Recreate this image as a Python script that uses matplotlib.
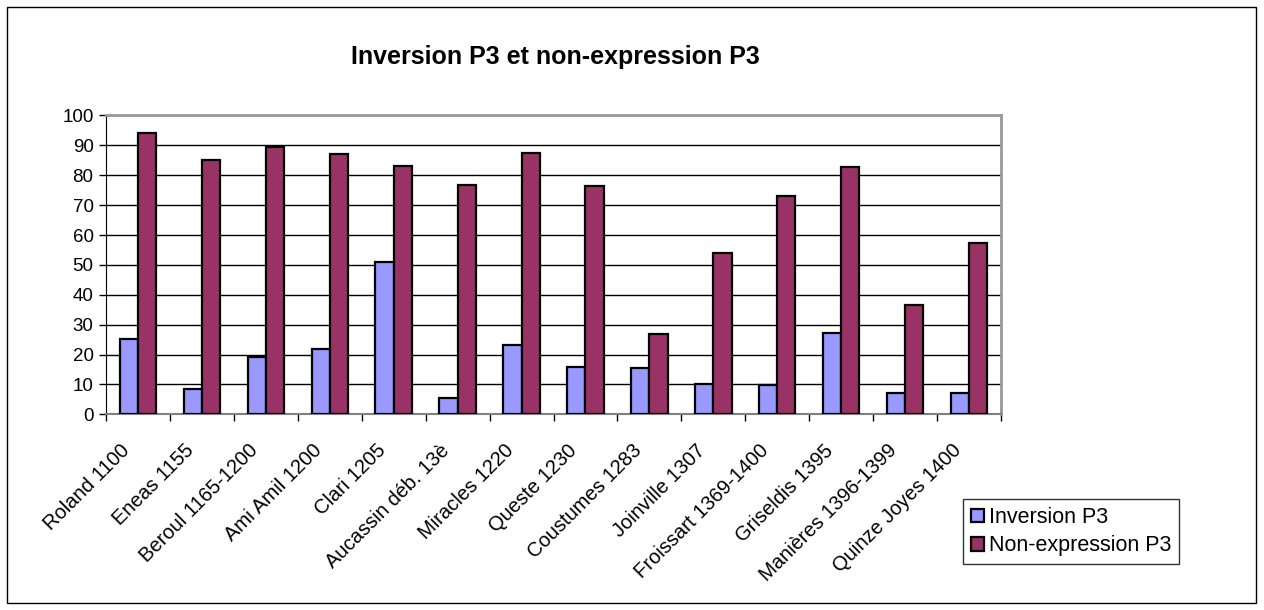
import matplotlib.pyplot as plt
import matplotlib.patches as mpatches
import numpy as np

plt.rcParams['font.family'] = ['Liberation Sans', 'DejaVu Sans']

# data
categories = ['Roland 1100', 'Eneas 1155', 'Beroul 1165-1200', 'Ami Amil 1200',
              'Clari 1205', 'Aucassin déb. 13è', 'Miracles 1220', 'Queste 1230',
              'Coustumes 1283', 'Joinville 1307', 'Froissart 1369-1400',
              'Griseldis 1395', 'Manières 1396-1399', 'Quinze Joyes 1400']
inversion = [25.2, 8.5, 19.2, 21.7, 51.0, 5.6, 23.1, 15.8, 15.4, 10.1, 9.8, 27.3, 7.2, 7.2]
non_expression = [94.3, 85.0, 89.5, 87.0, 83.2, 76.8, 87.3, 76.4, 26.9, 54.1, 73.1, 82.7, 36.5, 57.3]

fig = plt.figure(figsize=(12.64, 6.10), dpi=100)
ax = fig.add_axes([0.0839, 0.3208, 0.7080, 0.4899])

x = np.arange(len(categories))
w = 1 / 3.5
ax.bar(x - w / 2, inversion, w, color='#9999FF', edgecolor='black', linewidth=1.6,
       label='Inversion P3', zorder=3)
ax.bar(x + w / 2, non_expression, w, color='#993366', edgecolor='black', linewidth=1.6,
       label='Non-expression P3', zorder=3)

ax.set_xlim(-0.5, len(categories) - 0.5)
ax.set_ylim(0, 100)
ax.set_yticks(range(0, 101, 10))
ax.tick_params(axis='y', labelsize=13.5, length=5, width=1, direction='out', pad=4)
ax.yaxis.grid(True, color='black', linewidth=1, zorder=0)

# category ticks sit between the groups, labels near the group centres
ax.set_xticks(np.arange(len(categories) + 1) - 0.5)
ax.set_xticklabels([])
ax.tick_params(axis='x', length=5, width=1, direction='out', colors='black')
for i, name in enumerate(categories):
    ax.annotate(name, xy=(i, 0), xycoords=('data', 'axes fraction'),
                xytext=(-8, -24), textcoords='offset points',
                rotation=45, ha='right', va='center', rotation_mode='anchor',
                fontsize=14.5)

for side in ['top', 'right']:
    ax.spines[side].set_color('#999999')
    ax.spines[side].set_linewidth(2)
ax.spines['left'].set_color('black')
ax.spines['bottom'].set_color('#808080')
ax.spines['bottom'].set_linewidth(1.5)

fig.text(0.439, 0.907, 'Inversion P3 et non-expression P3', ha='center', va='center',
         fontsize=18, fontweight='bold')

handles = [mpatches.Patch(facecolor='#9999FF', edgecolor='black', linewidth=1.6, label='Inversion P3'),
           mpatches.Patch(facecolor='#993366', edgecolor='black', linewidth=1.6, label='Non-expression P3')]
fig.legend(handles=handles, loc='lower left', bbox_to_anchor=(0.762, 0.0754),
           fontsize=15.5, frameon=True, fancybox=False, edgecolor='black',
           handlelength=0.6, handleheight=0.6, handletextpad=0.25, borderpad=0.35,
           labelspacing=0.35, borderaxespad=0)

fig.patches.append(mpatches.Rectangle((7 / 1264, 7 / 610), 1249 / 1264, 596 / 610,
                                      transform=fig.transFigure, fill=False,
                                      edgecolor='black', linewidth=1))

fig.savefig('out.png', dpi=100)
